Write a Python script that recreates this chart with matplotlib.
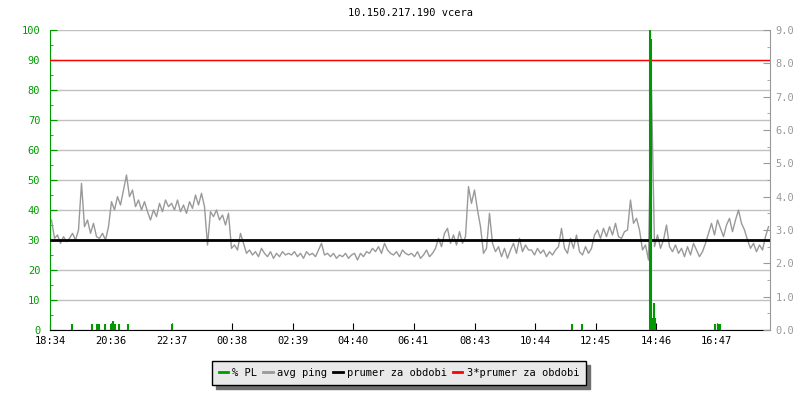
import matplotlib
matplotlib.use("Agg")
import matplotlib.pyplot as plt
import numpy as np

title = "10.150.217.190 vcera"

# time labels (minutes after 18:34)
tick_labels = ["18:34", "20:36", "22:37", "00:38", "02:39", "04:40",
               "06:41", "08:43", "10:44", "12:45", "14:46", "16:47"]
tick_minutes = [0, 122, 243, 364, 485, 606, 727, 849, 970, 1091, 1212, 1333]

# avg ping in ms, one sample every 6 minutes
avg_ping = [
    3.3, 2.75, 2.85, 2.6, 2.8, 2.65, 2.75, 2.9, 2.7, 3.0,
    4.4, 3.1, 3.3, 2.9, 3.2, 2.8, 2.75, 2.9, 2.7, 3.1,
    3.85, 3.6, 4.0, 3.75, 4.2, 4.65, 4.0, 4.2, 3.7, 3.9,
    3.6, 3.85, 3.55, 3.3, 3.6, 3.4, 3.8, 3.55, 3.9, 3.7,
    3.8, 3.6, 3.9, 3.55, 3.75, 3.5, 3.85, 3.65, 4.05, 3.75,
    4.1, 3.7, 2.55, 3.55, 3.4, 3.6, 3.3, 3.45, 3.15, 3.5,
    2.45, 2.55, 2.4, 2.9, 2.6, 2.3, 2.4, 2.25, 2.35, 2.2,
    2.45, 2.3, 2.2, 2.35, 2.15, 2.3, 2.2, 2.35, 2.25, 2.3,
    2.25, 2.35, 2.2, 2.3, 2.15, 2.35, 2.25, 2.3, 2.2, 2.4,
    2.6, 2.25, 2.3, 2.2, 2.3, 2.15, 2.25, 2.2, 2.3, 2.15,
    2.25, 2.3, 2.1, 2.3, 2.2, 2.35, 2.3, 2.45, 2.35, 2.5,
    2.3, 2.6, 2.4, 2.3, 2.25, 2.35, 2.2, 2.4, 2.3, 2.25,
    2.3, 2.2, 2.35, 2.15, 2.25, 2.4, 2.2, 2.3, 2.45, 2.75,
    2.5, 2.9, 3.05, 2.6, 2.85, 2.55, 2.95, 2.6, 2.8, 4.3,
    3.8, 4.2, 3.6, 3.1, 2.3, 2.45, 3.5, 2.6, 2.35, 2.5,
    2.2, 2.45, 2.15, 2.4, 2.6, 2.3, 2.75, 2.35, 2.55, 2.4,
    2.4, 2.25, 2.45, 2.3, 2.4, 2.2, 2.35, 2.25, 2.4, 2.5,
    3.05, 2.45, 2.3, 2.75, 2.45, 2.85, 2.35, 2.25, 2.5, 2.3,
    2.45, 2.85, 3.0, 2.75, 3.05, 2.8, 3.1, 2.85, 3.2, 2.8,
    2.75, 2.95, 3.0, 3.9, 3.2, 3.35, 3.0, 2.4, 2.55, 2.1,
    7.2, 2.5, 2.85, 2.45, 2.7, 3.15, 2.5, 2.35, 2.55, 2.3,
    2.45, 2.2, 2.5, 2.25, 2.6, 2.4, 2.2, 2.35, 2.6, 2.9,
    3.2, 2.85, 3.3, 3.05, 2.8, 3.15, 3.35, 2.95, 3.3, 3.6,
    3.2, 3.0, 2.7, 2.45, 2.6, 2.35, 2.55, 2.4, 2.8, 3.1,
]

# packet loss events: minute, percent
pl_minutes = [44, 84, 94, 98, 110, 122, 126, 130, 138, 156, 244,
              1044, 1064, 1200, 1202, 1206, 1208, 1210, 1330, 1336, 1340]
pl_values = [2, 2, 2, 2, 2, 2, 3, 2, 2, 2, 2,
             2, 2, 100, 97, 4, 9, 4, 2, 2, 2]

ping_mean = 2.7

green = "#009900"
gray = "#999999"
grid_gray = "#c0c0c0"

plt.rcParams["font.family"] = "DejaVu Sans Mono"
plt.rcParams["font.size"] = 7.5

fig = plt.figure(figsize=(8, 4), dpi=100)
ax = fig.add_axes([0.0625, 0.175, 0.9, 0.75])
ax2 = ax.twinx()
ax3 = ax.twinx()

ping_minutes = 3 + 6 * np.arange(len(avg_ping))

# left axis: grid + green ticks
ax.set_xlim(0, 1440)
ax.set_ylim(0, 100)
ax.set_yticks(np.arange(0, 101, 10))
ax.set_yticks(np.arange(5, 100, 10), minor=True)
ax.grid(axis="y", color=grid_gray, linewidth=1)
ax.set_axisbelow(True)
ax.tick_params(axis="y", which="both", direction="in", colors=green, pad=7)
ax.tick_params(axis="y", which="major", length=5)
ax.tick_params(axis="y", which="minor", length=2.5)
ax.set_xticks(tick_minutes)
ax.set_xticklabels(tick_labels)
ax.tick_params(axis="x", direction="in", length=5, pad=4, colors="black")
ax.spines["left"].set_color(green)
ax.spines["bottom"].set_color("black")
ax.spines["right"].set_visible(False)
ax.spines["top"].set_visible(False)
ax.set_title(title, fontsize=7.5, pad=10)

# right axis: ping
ax2.set_ylim(0, 9)
ax2.plot(ping_minutes, avg_ping, color=gray, linewidth=1, zorder=2)
ax2.axhline(ping_mean, color="black", linewidth=2, zorder=3)
ax2.axhline(3 * ping_mean, color="#ff0000", linewidth=1, zorder=3)
ax2.set_yticks(np.arange(0, 9.1, 1))
ax2.set_yticks(np.arange(0.5, 9, 1), minor=True)
ax2.set_yticklabels([f"{v:.1f}" for v in np.arange(0, 9.1, 1)])
ax2.tick_params(axis="y", which="both", direction="in", colors=gray, pad=4)
ax2.tick_params(axis="y", which="major", length=5)
ax2.tick_params(axis="y", which="minor", length=2.5)
for s in ["left", "top", "bottom"]:
    ax2.spines[s].set_visible(False)
ax2.spines["right"].set_color(gray)

# packet loss on top
ax3.set_ylim(0, 100)
ax3.vlines(pl_minutes, 0, pl_values, color=green, linewidth=1.5)
ax3.axis("off")

ax.set_zorder(1)
ax2.set_zorder(2)
ax3.set_zorder(3)
ax2.patch.set_visible(False)
ax3.patch.set_visible(False)

handles = [
    plt.Line2D([], [], color=green, linewidth=2),
    plt.Line2D([], [], color=gray, linewidth=2),
    plt.Line2D([], [], color="black", linewidth=2),
    plt.Line2D([], [], color="#ff0000", linewidth=2),
]
labels = ["% PL", "avg ping", "prumer za obdobi", "3*prumer za obdobi"]
leg = fig.legend(handles, labels, loc="center", bbox_to_anchor=(0.4985, 0.0675),
                 ncol=4, frameon=True, fancybox=False, handlelength=0.9,
                 handletextpad=0.4, columnspacing=0.6, borderpad=0.65,
                 shadow={"ox": 3, "oy": -3, "facecolor": "#6e6e6e",
                         "edgecolor": "#6e6e6e", "alpha": 1})
leg.get_frame().set_facecolor("#e9e9e9")
leg.get_frame().set_edgecolor("black")
leg.get_frame().set_linewidth(1)
leg.get_frame().set_alpha(1)

fig.savefig("out.png", dpi=100)
